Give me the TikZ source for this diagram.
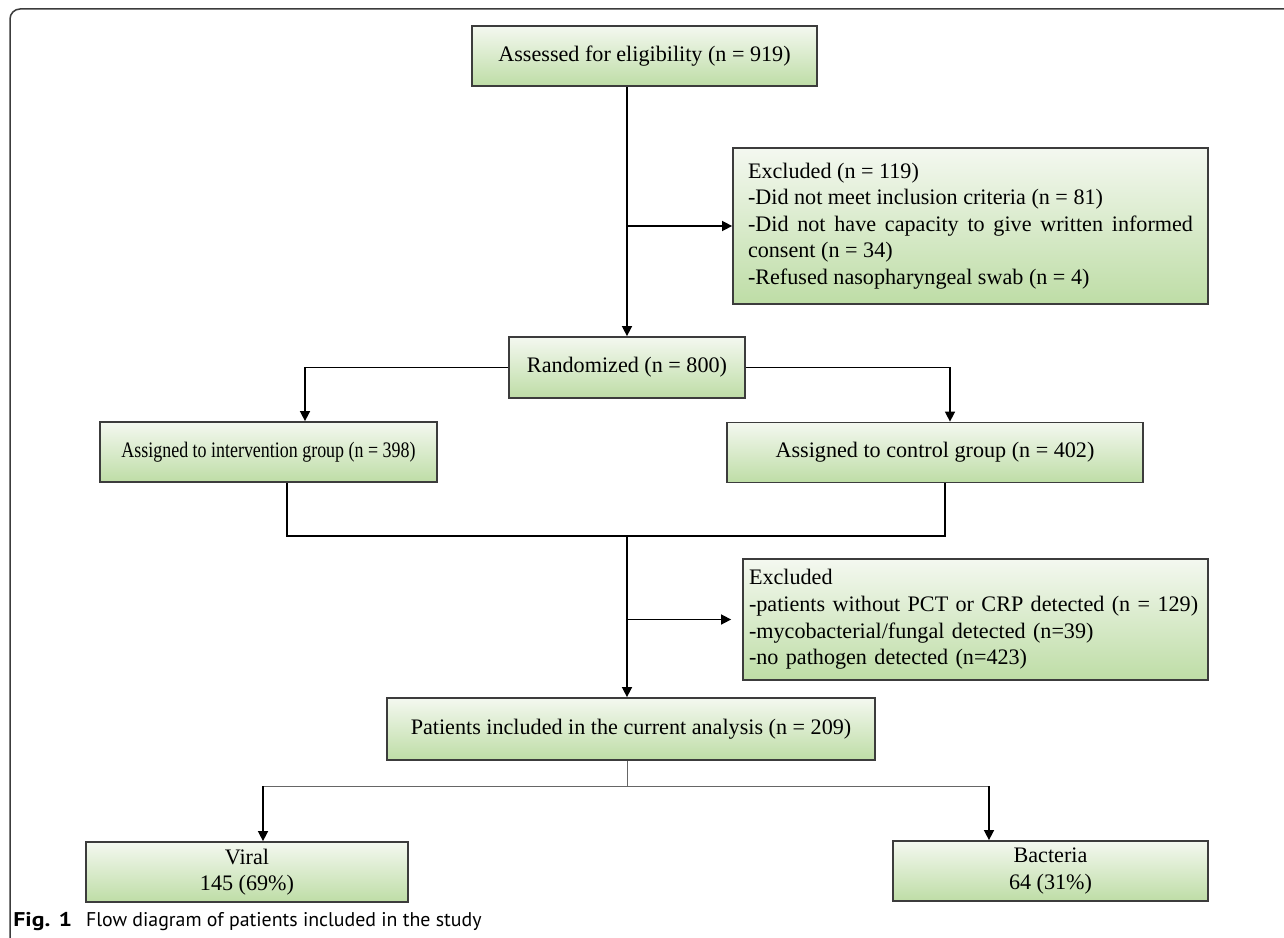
\documentclass[tikz,border=0pt]{standalone}
\usepackage{fontspec}
\setmainfont{Liberation Serif}
\setsansfont{PT Sans}
\newfontfamily\narrowserif[FakeStretch=0.81]{Liberation Serif}
\usetikzlibrary{arrows.meta}
\definecolor{boxtop}{RGB}{244,248,240}
\definecolor{boxbot}{RGB}{190,221,166}
\definecolor{rim}{RGB}{60,60,60}

\begin{document}
\begin{tikzpicture}[x=0.2mm, y=-0.2mm, every node/.style={font=\fontsize{12.6pt}{15.1pt}\selectfont},
	box/.style={draw=rim, line width=0.35mm, top color=boxtop, bottom color=boxbot, minimum height=12mm, inner sep=0pt, align=center},
	exbox/.style={box, align=left},
	arr/.style={line width=0.3mm, -{Triangle[length=2mm,width=2mm]}},
	ln/.style={line width=0.3mm},
	thinln/.style={line width=0.2mm, black!60}]
	\useasboundingbox (0,0) rectangle (1284,938);
	\draw[rim, line width=0.3mm, rounded corners=2mm] (10,938) -- (10,9) -- (1284,9);
	\node[box, minimum width=69mm] (assess) at (644.5,56) {Assessed for eligibility (n = 919)};
	\node[exbox, align=justify, minimum width=95mm, minimum height=31.2mm, text width=89mm] (excl1) at (970.5,226) {Excluded (n = 119)\\ -Did not meet inclusion criteria (n = 81)\\ -Did not have capacity to give written informed consent (n = 34)\\ -Refused nasopharyngeal swab (n = 4)};
	\node[box, minimum width=47.2mm, minimum height=12.2mm] (rand) at (627,367.5) {Randomized (n = 800)};
	\node[box, minimum width=67.4mm, font=\narrowserif\fontsize{12.6pt}{15.1pt}\selectfont] (interv) at (268.5,452) {Assigned to intervention group (n = 398)};
	\node[box, minimum width=83.2mm] (ctrl) at (935,452.5) {Assigned to control group (n = 402)};
	\node[exbox, minimum width=93mm, minimum height=24.2mm, text width=90.6mm] (excl2) at (975.5,619.5) {Excluded\\ -patients without PCT or CRP detected (n = 129)\\ -mycobacterial/fungal detected (n=39)\\ -no pathogen detected (n=423)};
	\node[box, minimum width=97.6mm, minimum height=12.4mm] (analysis) at (631,729) {Patients included in the current analysis (n = 209)};
	\node[box, minimum width=64.4mm] (viral) at (247,872) {Viral\\ 145 (69\%)};
	\node[box, minimum width=63mm] (bact) at (1050.5,871) {Bacteria\\ 64 (31\%)};
	\draw[arr] (assess.south -| rand.north) -- (rand.north);
	\draw[arr] (rand.north |- excl1.west) -- (excl1.west);
	\draw[arr] (rand.west) -| ([xshift=7.3mm]interv.north);
	\draw[arr] (rand.east) -| ([xshift=3mm]ctrl.north);
	\coordinate (merge) at (627,536);
	\draw[ln] ([xshift=3.7mm]interv.south) |- (merge) -| ([xshift=2mm]ctrl.south);
	\draw[arr] (merge) -- (merge |- analysis.north);
	\draw[arr] (merge |- excl2.west) -- ([xshift=-2.2mm]excl2.west);
	\coordinate (split) at (627,786);
	\coordinate (vtop) at ([xshift=3.2mm]viral.north);
	\coordinate (btop) at ([xshift=-12.3mm]bact.north);
	\draw[thinln] (split |- analysis.south) -- (split);
	\draw[thinln] (vtop |- split) -- (btop |- split);
	\draw[arr] (vtop |- split) -- (vtop);
	\draw[arr] (btop |- split) -- (btop);
	\node[anchor=west, inner sep=0pt, font=\sffamily\fontsize{11.3pt}{14pt}\selectfont] (cap) at (13,922) {{\bfseries\addfontfeatures{FakeStretch=1.2}Fig. 1}\hspace{2.8mm}Flow diagram of patients included in the study};
\end{tikzpicture}
\end{document}
